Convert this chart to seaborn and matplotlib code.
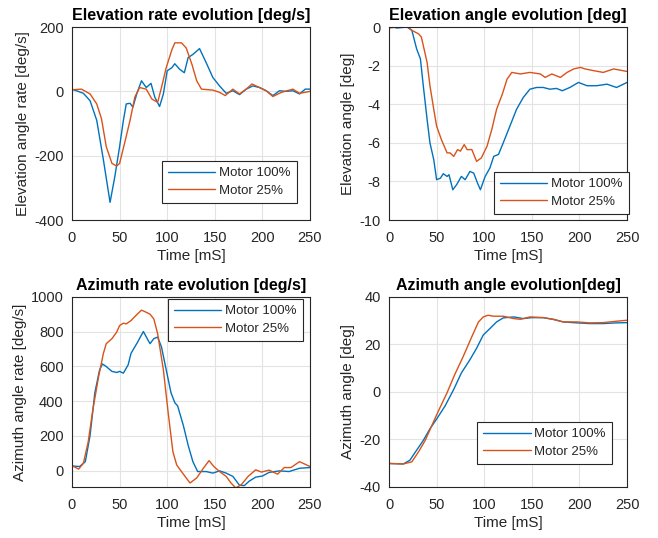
import pandas as pd
import seaborn as sns
import matplotlib.pyplot as plt

# elevation rate [deg/s]
er_t_100 = [0, 12, 19, 26, 33, 40, 45, 50, 54, 57, 61, 64, 68, 73, 78, 83, 87, 92, 96, 100, 105, 108,
            113, 118, 122, 127, 134, 141, 148, 155, 162, 169, 176, 183, 190, 197, 204, 211, 218, 225,
            232, 239, 245, 250]
er_v_100 = [7, -6, -29, -90, -213, -345, -265, -172, -90, -39, -37, -49, -8, 33, 12, 25, -18, -47, -8, 64,
            74, 86, 69, 58, 105, 115, 133, 89, 43, 17, -6, 2, -10, 7, 17, 12, 2, -13, 2, 0, 2, -8, 7, 7]
er_t_25 = [0, 10, 19, 26, 31, 36, 42, 47, 50, 56, 61, 66, 71, 78, 84, 90, 94, 99, 105, 108, 115, 120,
           126, 131, 136, 148, 155, 161, 169, 176, 183, 189, 197, 204, 211, 220, 232, 239, 250]
er_v_25 = [5, 7, -8, -39, -85, -172, -224, -232, -224, -152, -90, -18, 12, 7, -24, -34, 12, 74, 130, 151,
           151, 135, 84, 33, 7, 4, -3, -13, 7, -8, 7, 23, 12, 2, -16, -3, 7, -6, 0]

# elevation angle [deg]
ea_t_100 = [0, 8, 19, 24, 29, 33, 36, 40, 43, 47, 50, 54, 57, 61, 63, 67, 71, 76, 80, 85, 89, 93, 96,
            101, 106, 110, 115, 120, 127, 134, 141, 148, 155, 162, 169, 176, 182, 190, 199, 208, 218,
            229, 239, 250]
ea_v_100 = [0.09, -0.05, 0, -0.17, -1.13, -1.65, -3.04, -4.78, -6.0, -6.87, -7.91, -7.83, -7.6, -7.74,
            -7.65, -8.43, -8.17, -7.74, -7.91, -7.48, -7.57, -8.09, -8.43, -7.74, -7.3, -6.7, -6.6, -6.0,
            -5.13, -4.26, -3.65, -3.22, -3.13, -3.13, -3.22, -3.18, -3.3, -3.13, -2.87, -3.04, -3.04,
            -2.96, -3.13, -2.87]
ea_t_25 = [0, 8, 19, 24, 31, 34, 40, 43, 47, 50, 55, 61, 64, 68, 72, 75, 79, 82, 87, 92, 97, 103, 108,
           113, 119, 124, 129, 138, 148, 159, 164, 171, 180, 187, 194, 201, 206, 215, 225, 236, 250]
ea_v_25 = [-0.05, 0, 0.05, -0.17, -0.35, -0.52, -1.83, -3.04, -4.26, -5.13, -5.83, -6.52, -6.52, -6.7,
           -6.35, -6.43, -6.09, -6.35, -6.35, -6.96, -6.78, -6.17, -5.3, -4.26, -3.48, -2.7, -2.35, -2.43,
           -2.35, -2.43, -2.61, -2.43, -2.61, -2.35, -2.17, -2.09, -2.17, -2.26, -2.35, -2.17, -2.3]

# azimuth rate [deg/s]
ar_t_100 = [0, 8, 14, 19, 24, 29, 32, 36, 42, 47, 50, 54, 59, 62, 68, 75, 79, 82, 86, 90, 94, 99, 104,
            108, 111, 117, 122, 127, 132, 141, 148, 155, 162, 169, 176, 181, 186, 193, 200, 207, 218,
            228, 239, 250]
ar_v_100 = [26, 23, 51, 202, 448, 580, 614, 599, 571, 565, 571, 561, 609, 675, 731, 801, 760, 731, 760,
            769, 712, 580, 448, 391, 372, 259, 146, 51, -6, -6, -15, -2, -15, -34, -85, -87, -62, -38,
            -32, -11, -2, -6, 13, 17]
ar_t_25 = [0, 7, 12, 17, 22, 28, 33, 36, 42, 47, 50, 54, 57, 62, 68, 73, 76, 82, 86, 90, 96, 101, 106,
           110, 115, 120, 124, 131, 138, 144, 149, 155, 162, 167, 172, 178, 185, 193, 199, 207, 216, 223,
           230, 239, 250]
ar_v_25 = [28, 8, 42, 164, 353, 542, 675, 731, 760, 798, 835, 849, 845, 864, 898, 924, 917, 901, 873,
           788, 580, 335, 108, 32, -6, -43, -72, -43, 13, 57, 23, -6, -34, -72, -100, -81, -34, 4, -9, 2,
           -21, 17, 17, 51, 23]

# azimuth angle [deg]
aa_t_100 = [0, 15, 22, 29, 36, 43, 50, 59, 68, 76, 85, 92, 99, 106, 113, 120, 131, 141, 150, 162, 173,
            183, 197, 211, 225, 239, 250]
aa_v_100 = [-30.1, -30.3, -28.7, -24.5, -20.4, -15.5, -11.4, -5.8, 1.1, 8.0, 13.6, 18.4, 24.0, 26.7,
            29.5, 31.2, 31.6, 30.9, 31.3, 31.3, 30.5, 29.5, 29.1, 28.8, 28.8, 29.1, 29.2]
aa_t_25 = [0, 15, 24, 31, 38, 45, 52, 61, 69, 78, 87, 94, 99, 104, 110, 120, 131, 138, 148, 162, 173,
           183, 197, 211, 225, 239, 250]
aa_v_25 = [-30.1, -30.3, -29.4, -25.2, -20.4, -14.1, -7.9, -0.3, 7.3, 15.0, 23.3, 29.5, 31.6, 32.3,
           31.9, 31.9, 30.9, 30.6, 31.6, 31.3, 30.6, 29.5, 29.5, 29.1, 29.2, 29.8, 30.2]

labels = ["Motor 100%", "Motor 25%"]
colors = ["#0072BD", "#D95319"]


def make_df(t1, v1, t2, v2):
    a = pd.DataFrame({"t": t1, "v": v1, "Motor": labels[0]})
    b = pd.DataFrame({"t": t2, "v": v2, "Motor": labels[1]})
    return pd.concat([a, b], ignore_index=True)


sns.set_theme(style="whitegrid")
plt.rcParams["font.family"] = ["Liberation Sans", "DejaVu Sans"]
plt.rcParams["axes.unicode_minus"] = False

fig = plt.figure(figsize=(6.58, 5.38), dpi=100)
w, h = 0.3617, 0.3587
panels = [
    ([0.1094, 0.591, w, h], make_df(er_t_100, er_v_100, er_t_25, er_v_25),
     "Elevation rate evolution [deg/s]", "Elevation angle rate [deg/s]",
     (-400, 200), [-400, -200, 0, 200], (0.378, 0.306)),
    ([0.5912, 0.591, w, h], make_df(ea_t_100, ea_v_100, ea_t_25, ea_v_25),
     "Elevation angle evolution [deg]", "Elevation angle [deg]",
     (-10, 0), [-10, -8, -6, -4, -2, 0], (0.441, 0.249)),
    ([0.1094, 0.0948, w, 0.3532], make_df(ar_t_100, ar_v_100, ar_t_25, ar_v_25),
     "Azimuth rate evolution [deg/s]", "Azimuth angle rate [deg/s]",
     (-95, 1000), [0, 200, 400, 600, 800, 1000], (0.403, 0.989)),
    ([0.5912, 0.0948, w, 0.3532], make_df(aa_t_100, aa_v_100, aa_t_25, aa_v_25),
     "Azimuth angle evolution[deg]", "Azimuth angle [deg]",
     (-40, 40), [-40, -20, 0, 20, 40], (0.37, 0.342)),
]

for rect, df, title, ylabel, ylim, yticks, leg_pos in panels:
    ax = fig.add_axes(rect)
    sns.lineplot(data=df, x="t", y="v", hue="Motor", palette=colors, linewidth=1.0, ax=ax)
    ax.set_xlim(0, 250)
    ax.set_xticks([0, 50, 100, 150, 200, 250])
    ax.set_ylim(*ylim)
    ax.set_yticks(yticks)
    ax.set_title(title, fontsize=11.5, fontweight="bold", color="black", pad=5)
    ax.set_xlabel("Time [mS]", fontsize=11, color="#262626", labelpad=3)
    ax.set_ylabel(ylabel, fontsize=11, color="#262626", labelpad=3)
    ax.tick_params(labelsize=10.5, colors="#262626", direction="in", length=2)
    ax.tick_params(axis="x", pad=8)
    ax.tick_params(axis="y", pad=6)
    ax.grid(True, color="#e3e3e3", linewidth=0.8)
    for s in ax.spines.values():
        s.set_color("#262626")
        s.set_linewidth(0.8)
    ax.legend(loc="upper left", bbox_to_anchor=leg_pos, borderaxespad=0, fontsize=9.5,
              frameon=True, fancybox=False, edgecolor="#262626", framealpha=1,
              handlelength=3.6, handletextpad=0.3, labelspacing=0.4, borderpad=0.45)
    ax.get_legend().get_frame().set_linewidth(0.8)

plt.savefig("out.png", dpi=100)
